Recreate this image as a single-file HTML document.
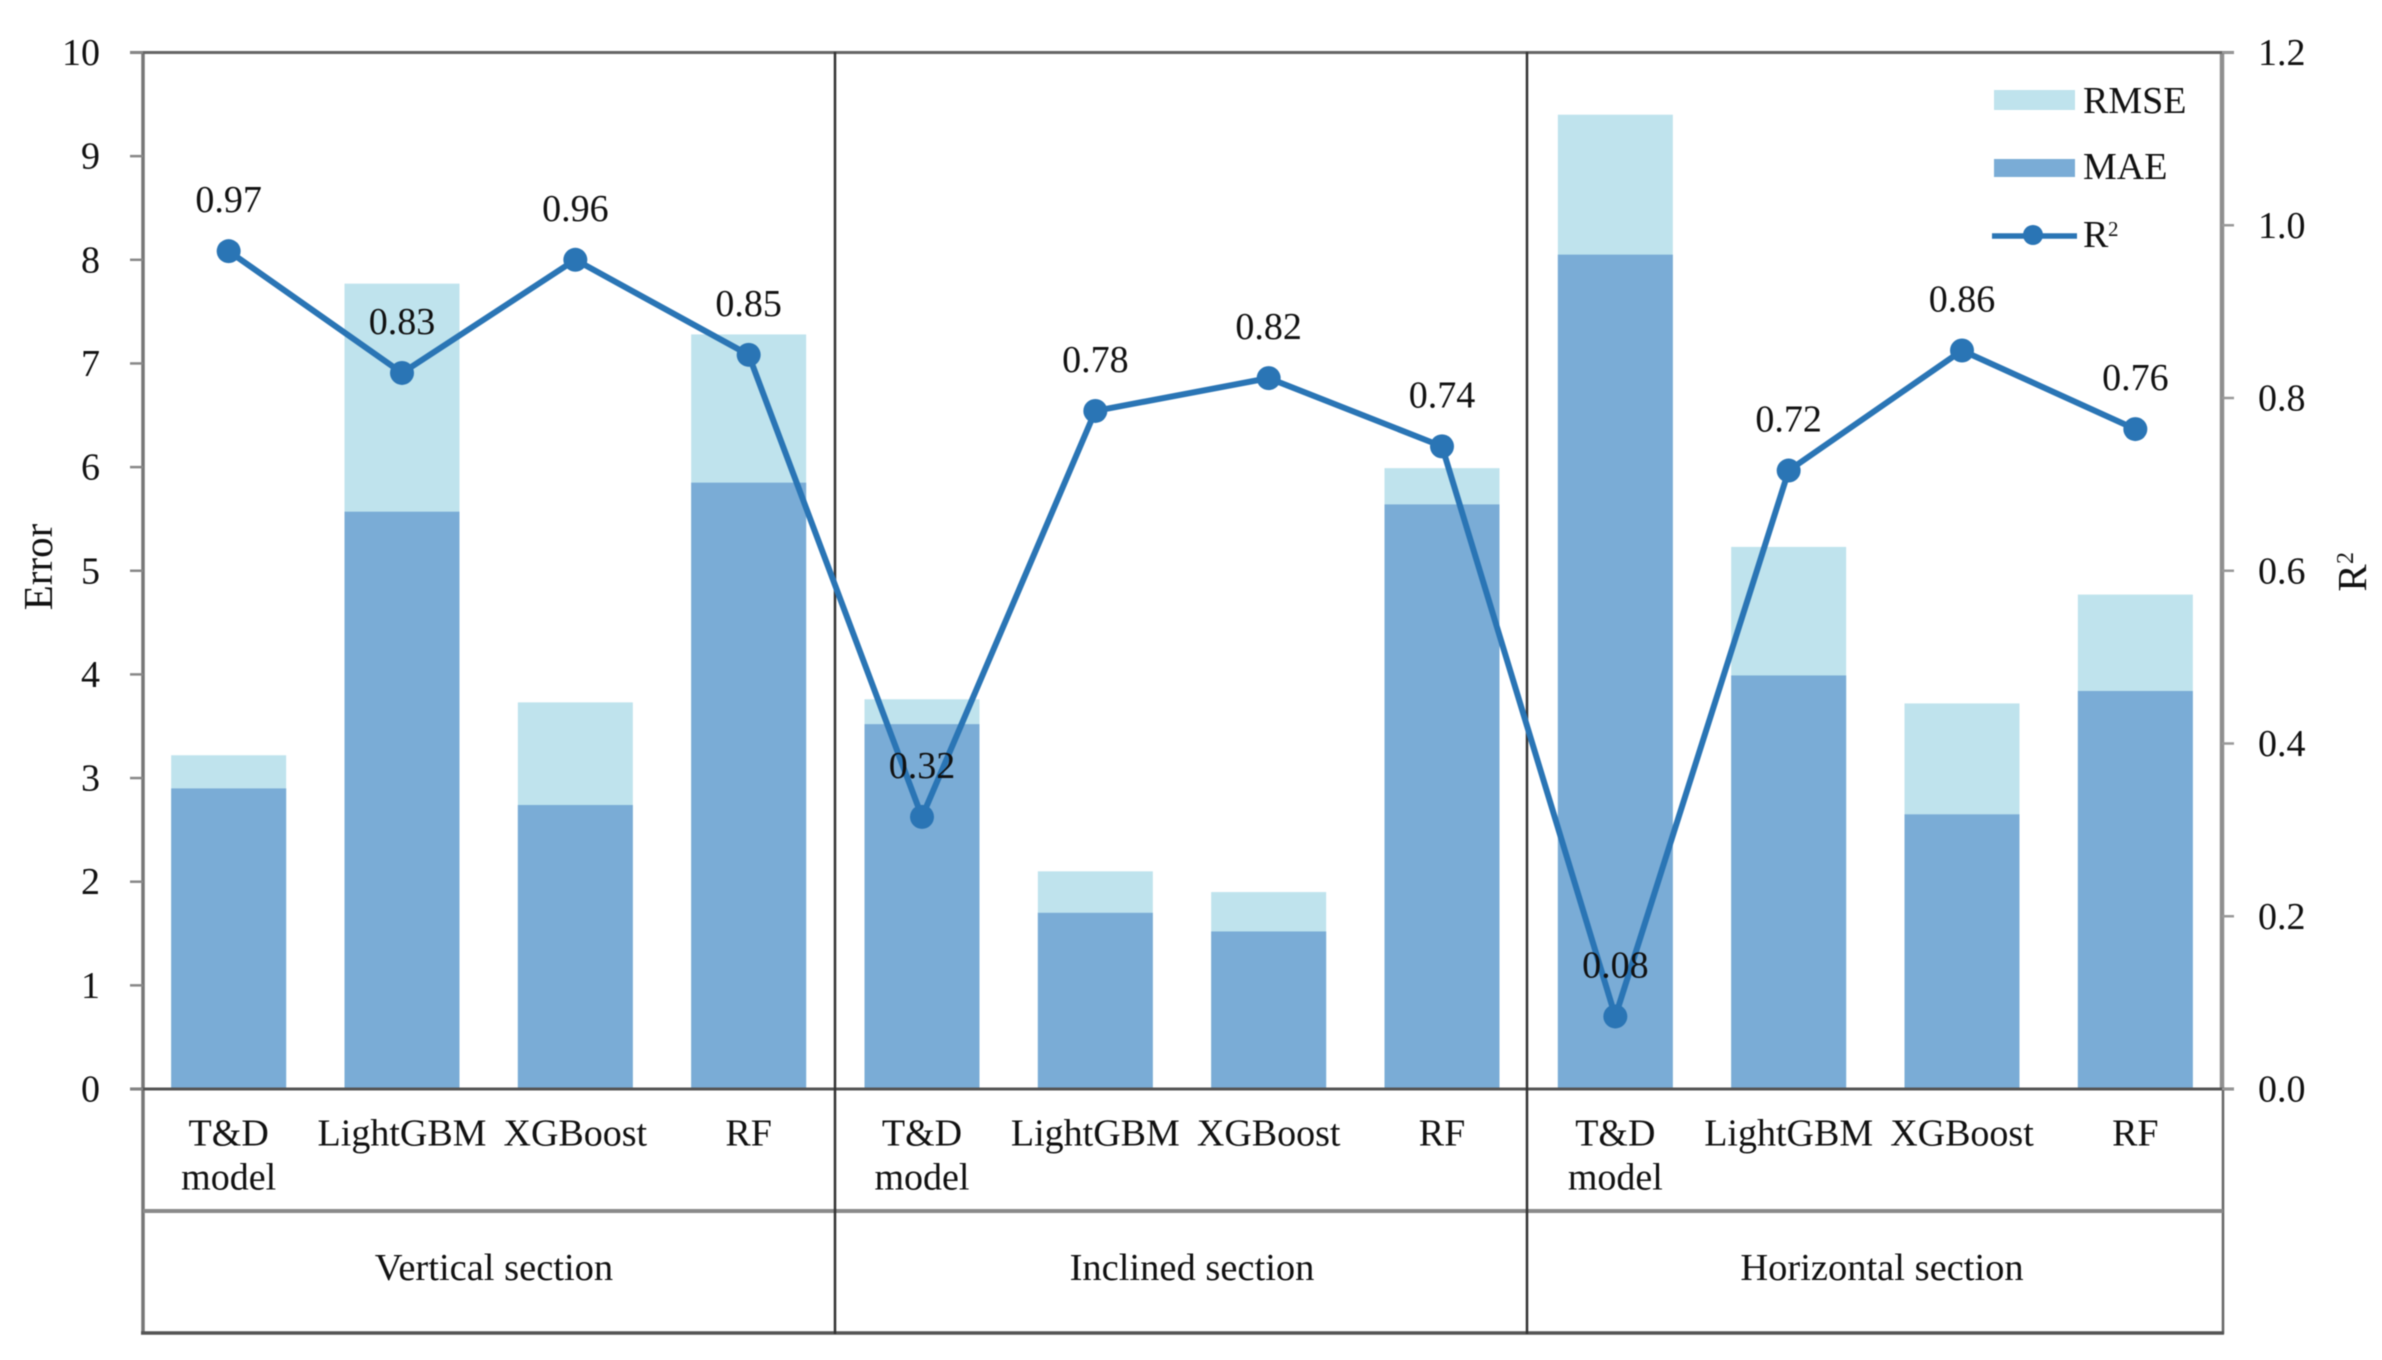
<!DOCTYPE html>
<html lang="en">
<head>
<meta charset="utf-8">
<title>Error and R² by model and well section</title>
<style>
  html, body { margin: 0; padding: 0; background: #fff; }
  body { width: 2382px; height: 1360px; overflow: hidden; }
  svg { display: block; filter: blur(0.6px); }
  text { font-family: "Liberation Serif", serif; fill: #111; font-size: 38px; }
</style>
</head>
<body>
<svg id="chart" xmlns="http://www.w3.org/2000/svg" width="2382" height="1360" viewBox="0 0 2382 1360">
  <g id="bars"></g>
  <g id="frame">
    <line x1="143" y1="52" x2="143" y2="1334" stroke="#777" stroke-width="3.5"/>
    <line x1="2222" y1="52" x2="2222" y2="1089" stroke="#8f8f8f" stroke-width="4.5"/>
    <line x1="2223" y1="1089" x2="2223" y2="1334" stroke="#666" stroke-width="2.5"/>
    <line x1="130" y1="52.5" x2="2234" y2="52.5" stroke="#666" stroke-width="3"/>
    <line x1="130" y1="1089" x2="2234" y2="1089" stroke="#555" stroke-width="3"/>
    <line x1="143" y1="1211" x2="2223" y2="1211" stroke="#8a8a8a" stroke-width="4"/>
    <line x1="141" y1="1333" x2="2224" y2="1333" stroke="#555" stroke-width="3.5"/>
    <line x1="835" y1="52" x2="835" y2="1334" stroke="#333" stroke-width="2.5"/>
    <line x1="1527" y1="52" x2="1527" y2="1334" stroke="#333" stroke-width="2.5"/>
  </g>
  <g id="axes">
    <text transform="translate(52,567) rotate(-90)" text-anchor="middle" style="font-size:41px">Error</text>
    <text transform="translate(2366,578) rotate(-90)" text-anchor="middle" style="font-size:41px">R</text>
    <text transform="translate(2353,558) rotate(-90)" text-anchor="middle" style="font-size:24px">2</text>
  </g>
  <g id="line"></g>
  <g id="categories">
    <text x="494" y="1280" text-anchor="middle" style="font-size:38.5px">Vertical section</text>
    <text x="1192" y="1280" text-anchor="middle" style="font-size:38.5px">Inclined section</text>
    <text x="1882" y="1280" text-anchor="middle" style="font-size:38.5px">Horizontal section</text>
  </g>
  <g id="legend">
    <rect x="1994" y="90" width="81" height="20" fill="#BFE3ED"/>
    <text x="2083" y="113">RMSE</text>
    <rect x="1994" y="159" width="81" height="18" fill="#7AACD6"/>
    <text x="2083" y="179">MAE</text>
    <line x1="1992" y1="236" x2="2077" y2="236" stroke="#2A75B5" stroke-width="5.5"/>
    <circle cx="2033" cy="235" r="10" fill="#2A75B5"/>
    <text x="2083" y="247">R</text>
    <text x="2108" y="236" style="font-size:21px">2</text>
  </g>
</svg>
<script>
const categories = ["T&D model", "LightGBM", "XGBoost", "RF", "T&D model", "LightGBM", "XGBoost", "RF", "T&D model", "LightGBM", "XGBoost", "RF"];
const rmseValues = [3.22, 7.77, 3.73, 7.28, 3.76, 2.10, 1.90, 5.99, 9.40, 5.23, 3.72, 4.77];
const maeValues = [2.90, 5.57, 2.74, 5.85, 3.52, 1.70, 1.52, 5.64, 8.05, 3.99, 2.65, 3.84];
const r2Values = [0.970, 0.829, 0.960, 0.850, 0.315, 0.785, 0.823, 0.744, 0.084, 0.716, 0.855, 0.764];
const r2Labels = ["0.97", "0.83", "0.96", "0.85", "0.32", "0.78", "0.82", "0.74", "0.08", "0.72", "0.86", "0.76"];
const errorTicks = [0, 1, 2, 3, 4, 5, 6, 7, 8, 9, 10];
const r2Ticks = ["0.0", "0.2", "0.4", "0.6", "0.8", "1.0", "1.2"];

const NS = "http://www.w3.org/2000/svg";
const PLOT_LEFT = 142, PLOT_RIGHT = 2222, PLOT_TOP = 52.5, PLOT_BOTTOM = 1089;
const ERROR_MAX = 10, R2_MAX = 1.2, BAR_WIDTH = 115;
const band = (PLOT_RIGHT - PLOT_LEFT) / categories.length;

function xCat(i) { return PLOT_LEFT + band * (i + 0.5); }
function yError(v) { return PLOT_BOTTOM - (PLOT_BOTTOM - PLOT_TOP) * v / ERROR_MAX; }
function yR2(v) { return PLOT_BOTTOM - (PLOT_BOTTOM - PLOT_TOP) * v / R2_MAX; }

function make(tag, parent, props) {
  const el = document.createElementNS(NS, tag);
  for (const k in props) el.setAttribute(k, props[k]);
  parent.appendChild(el);
  return el;
}

const barsG = document.getElementById("bars");
const lineG = document.getElementById("line");
const catsG = document.getElementById("categories");
const axesG = document.getElementById("axes");

categories.forEach(function (c, i) {
  const x = xCat(i) - BAR_WIDTH / 2;
  const rmse = make("rect", barsG, { x: x, y: yError(rmseValues[i]), width: BAR_WIDTH, height: PLOT_BOTTOM - yError(rmseValues[i]), fill: "#BFE3ED" });
  
  
  const mae = make("rect", barsG, { x: x, y: yError(maeValues[i]), width: BAR_WIDTH, height: PLOT_BOTTOM - yError(maeValues[i]), fill: "#7AACD6" });
  
  

  const words = c === "T&D model" ? ["T&D", "model"] : [c];
  words.forEach(function (w, j) {
    const t = make("text", catsG, { x: xCat(i), y: 1145.5 + j * 44, "text-anchor": "middle" });
    t.textContent = w;
    
    
  });
});

const path = make("polyline", lineG, {
  points: r2Values.map(function (v, i) { return xCat(i) + "," + yR2(v); }).join(" "),
  fill: "none", stroke: "#2A75B5", "stroke-width": 6, "stroke-linejoin": "round"
});



r2Values.forEach(function (v, i) {
  const p = make("circle", lineG, { cx: xCat(i), cy: yR2(v), r: 12, fill: "#2A75B5" });
  
  
  const t = make("text", lineG, { x: xCat(i), y: yR2(v) - 39, "text-anchor": "middle" });
  t.textContent = r2Labels[i];
  
  
});

errorTicks.forEach(function (v) {
  const y = yError(v);
  const tick = make("line", axesG, { x1: 130, x2: 143, y1: y, y2: y, stroke: "#888", "stroke-width": 2.5 });
  
  
  const t = make("text", axesG, { x: 100, y: y + 12.5, "text-anchor": "end" });
  t.textContent = v;
  
  
});

r2Ticks.forEach(function (label) {
  const y = yR2(parseFloat(label));
  const tick = make("line", axesG, { x1: 2222, x2: 2234, y1: y, y2: y, stroke: "#999", "stroke-width": 2.5 });
  
  
  const t = make("text", axesG, { x: 2258, y: y + 12.5 });
  t.textContent = label;
  
  
});
</script>
</body>
</html>
